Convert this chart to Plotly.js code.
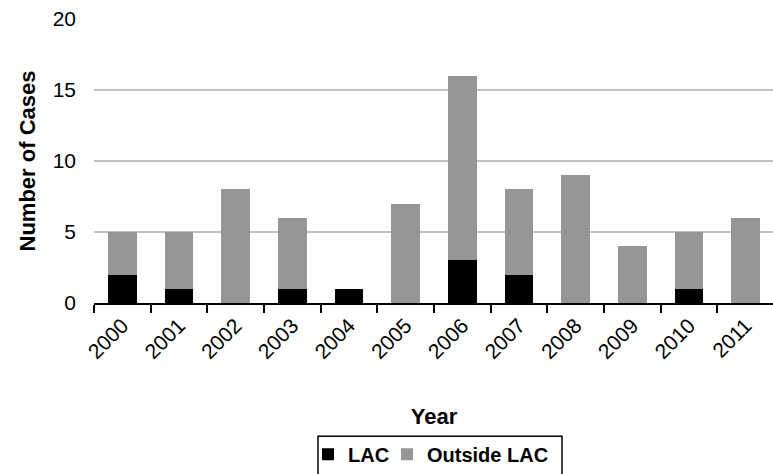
<!DOCTYPE html>
<html><head><meta charset="utf-8">
<script src="https://cdn.plot.ly/plotly-3.0.1.min.js"></script>
<style>html,body{margin:0;padding:0;overflow:hidden;background:#fff}</style>
</head><body><div id="chart"></div>
<script>
const years = ['2000','2001','2002','2003','2004','2005','2006','2007','2008','2009','2010','2011'];
const lacCases = [2,1,0,1,1,0,3,2,0,0,1,0];
const outsideLacCases = [3,4,8,5,0,7,13,6,9,4,4,6];
const yTicks = [0,5,10,15,20];

const fontFamily = 'Liberation Sans, Arial, sans-serif';

// plot-area geometry (pixels) used to convert the legend frame to paper coords
const W = 775, H = 474, ML = 94, MR = 1, MT = 19, MB = 170.5;
const PW = W - ML - MR, PH = H - MT - MB;
const px = v => (v - ML) / PW;
const py = v => (H - MB - v) / PH;

const traces = [
  {type:'bar', name:'LAC', x:years, y:lacCases, marker:{color:'#000000'}, hoverinfo:'x+y+name', legend:'legend'},
  {type:'bar', name:'Outside LAC', x:years, y:outsideLacCases, marker:{color:'#969696'}, hoverinfo:'x+y+name', legend:'legend2'}
];

const legendBase = {orientation:'h', xanchor:'left', yanchor:'middle', y:py(455),
  borderwidth:0, bgcolor:'rgba(0,0,0,0)', font:{size:20, weight:700}};

const layout = {
  width:W, height:H,
  margin:{l:ML, r:MR, t:MT, b:MB, pad:0},
  paper_bgcolor:'#ffffff', plot_bgcolor:'#ffffff',
  font:{family:fontFamily, color:'#000000', size:21},
  barmode:'stack', bargap:0.49,
  showlegend:true,
  legend:Object.assign({}, legendBase, {x:px(308)}),
  legend2:Object.assign({}, legendBase, {x:px(387)}),
  shapes:[{type:'rect', xref:'paper', yref:'paper', x0:px(318), x1:px(562), y0:py(437), y1:py(490),
           line:{color:'#000000', width:1.5}, fillcolor:'rgba(0,0,0,0)', layer:'above'}],
  xaxis:{type:'category', tickson:'boundaries', ticks:'outside', ticklen:8, tickwidth:2, tickcolor:'#000',
         showline:true, linewidth:2, linecolor:'#000', showgrid:false, zeroline:false,
         tickangle:-45, tickfont:{size:21},
         title:{text:'Year', font:{size:22, weight:700}, standoff:47}},
  yaxis:{range:[0,20], tickvals:yTicks, ticktext:yTicks.map(String), showline:false, zeroline:false,
         showgrid:true, gridcolor:'#c0c0c0', gridwidth:2, ticks:'', ticklabelstandoff:17,
         tickfont:{size:21},
         title:{text:'Number of Cases', font:{size:22, weight:700}, standoff:10}}
};

Plotly.newPlot('chart', traces, layout, {displayModeBar:false, staticPlot:true});
</script>
</body></html>
